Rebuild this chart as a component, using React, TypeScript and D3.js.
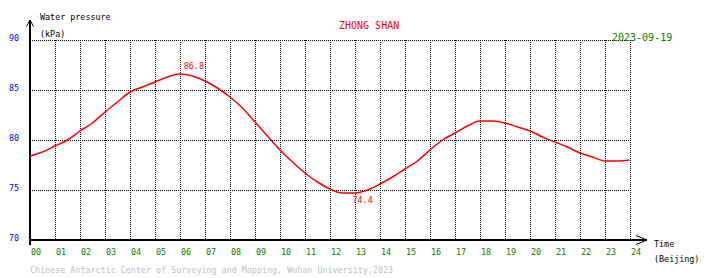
import React from "react";
import * as d3 from "d3";

const hours = [0,0.5,1,1.5,2,2.5,3,3.5,4,4.5,5,5.5,6,6.5,7,7.5,8,8.5,9,9.5,10,10.5,11,11.5,12,12.5,13,13.5,14,14.5,15,15.5,16,16.5,17,17.5,18,18.5,19,19.5,20,20.5,21,21.5,22,22.5,23,23.5,23.97];
const pressure = [78.4,78.8,79.4,80.0,80.9,81.7,82.8,83.8,84.8,85.3,85.8,86.3,86.6,86.4,85.9,85.2,84.3,83.2,81.8,80.4,79.0,77.8,76.7,75.8,75.1,74.7,74.7,75.0,75.6,76.3,77.1,77.9,79.0,80.0,80.7,81.4,81.9,81.9,81.7,81.3,80.9,80.3,79.8,79.3,78.7,78.3,77.9,77.9,78.0];
const yTicks = [70,75,80,85,90];
const xTickLabels = ["00","01","02","03","04","05","06","07","08","09","10","11","12","13","14","15","16","17","18","19","20","21","22","23","24"];
const extremeHours = [6.15, 12.9];
const extremeValues = [86.8, 74.4];
const extremeKinds = ["max", "min"];

const title = "ZHONG SHAN";
const dateLabel = "2023-09-19";
const footer = "Chinese Antarctic Center of Surveying and Mapping, Wuhan University,2023";

const MONO = "'DejaVu Sans Mono', 'Liberation Mono', monospace";

export default function App() {
  const x = d3.scaleLinear().domain([0, 24]).range([30, 630]);
  const y = d3.scaleLinear().domain([70, 90]).range([240, 40]);
  const pts: [number, number][] = hours.map((h, i) => [h, pressure[i]]);
  const line = d3
    .line<[number, number]>()
    .x((d) => x(d[0]))
    .y((d) => y(d[1]))
    .curve(d3.curveMonotoneX);
  const xt = d3.range(0, 25);

  return (
    <svg
      width={710}
      height={278}
      style={{ position: "absolute", left: 0, top: 0, background: "#fff" }}
      fontFamily={MONO}
    >
      <rect x={0} y={0} width={710} height={278} fill="#fff" />
      {/* horizontal grid */}
      {yTicks.filter((t) => t > 70).map((t) => (
        <line key={"h" + t} x1={30} x2={631} y1={Math.round(y(t)) + 0.5} y2={Math.round(y(t)) + 0.5}
          stroke="#000" strokeWidth={1} strokeDasharray="1,1" shapeRendering="crispEdges" />
      ))}
      {/* vertical grid */}
      {xt.filter((h) => h > 0).map((h) => (
        <line key={"v" + h} x1={Math.round(x(h)) + 0.5} x2={Math.round(x(h)) + 0.5} y1={40} y2={240}
          stroke="#000" strokeWidth={1} strokeDasharray="1,1" shapeRendering="crispEdges" />
      ))}
      {/* axes */}
      <line x1={30} x2={30} y1={20} y2={245} stroke="#000" strokeWidth={2} shapeRendering="crispEdges" />
      <polyline points="26.5,26.5 30,20 33.5,26.5" fill="none" stroke="#000" strokeWidth={1} />
      <line x1={29} x2={647} y1={240} y2={240} stroke="#000" strokeWidth={2} shapeRendering="crispEdges" />
      <polyline points="636,235.5 647,240 636,244.5" fill="none" stroke="#000" strokeWidth={1} />

      {/* y labels */}
      {yTicks.map((t) => (
        <text key={"yl" + t} x={19} y={y(t) + 1} textAnchor="end" fontSize={8.4} fill="#0000ff">{t}</text>
      ))}
      {/* x labels */}
      {xt.map((h) => (
        <text key={"xl" + h} x={x(h) + 1} y={255} fontSize={8.4} fill="#008000">{xTickLabels[h]}</text>
      ))}

      {/* axis titles */}
      <text x={40} y={20} fontSize={8.4} fill="#000">Water pressure</text>
      <text x={40} y={36.5} fontSize={8.4} fill="#000">(kPa)</text>
      <text x={654} y={247} fontSize={8.4} fill="#000">Time</text>
      <text x={654} y={262} fontSize={8.4} fill="#000">(Beijing)</text>

      <text x={339} y={29} fontSize={10} fill="#ff0000">{title}</text>
      <text x={612} y={40.5} fontSize={10} fill="#008000">{dateLabel}</text>
      <text x={30} y={273} fontSize={8.4} fill="#c0c0c0">{footer}</text>

      {/* data */}
      <path d={line(pts) || ""} fill="none" stroke="#ff0000" strokeWidth={1.5} />

      {/* extremes */}
      {extremeHours.map((h, i) => (
        <text key={"ex" + i} x={x(h)} y={extremeKinds[i] === "max" ? y(extremeValues[i]) - 3 : y(extremeValues[i]) + 7}
          fontSize={8.4} fill="#ff0000">{extremeValues[i].toFixed(1)}</text>
      ))}
    </svg>
  );
}
